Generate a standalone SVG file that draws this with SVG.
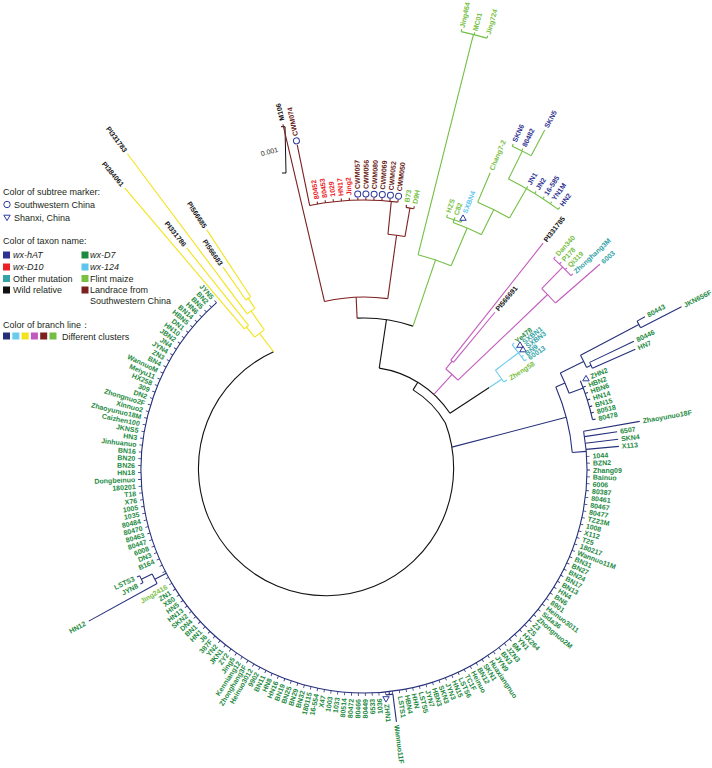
<svg xmlns="http://www.w3.org/2000/svg" width="712" height="768" viewBox="0 0 712 768">
<defs>
<style>
text{font-family:"Liberation Sans",Arial,Helvetica,sans-serif}
.t{font-size:7px;font-weight:bold;dominant-baseline:central}
.e{text-anchor:end}
.lgd{font-size:9px;fill:#231f20}
.it{font-style:italic}
.g{fill:#1d8a3f}
.lg{fill:#78c043}
.nv{fill:#2e3191}
.rd{fill:#ea2227}
.tl{fill:#33a3a6}
.lb{fill:#5cc6ec}
.bk{fill:#111}
.br{fill:#6a1c17}
.c path,.c circle{fill:none;stroke-width:1.1}
.k{stroke:#111}
.db{stroke:#26307a}
.yl{stroke:#f2e41a}
.mg{stroke:#c25bbe}
.bw{stroke:#7c1f1f}
.gr{stroke:#72bf44}
.cy{stroke:#6ccbeb}
.mk{fill:none;stroke:#2e3a9a;stroke-width:1}
</style>
<clipPath id="tk"><path d="M0 0L998 -64L1000 1000L-1000 1000L-1000 -1000L-659 -752Z"/></clipPath>
<path id="triU" d="M-3.2 2.3H3.2L0 -3.1Z"/>
<path id="triD" d="M-3.2 -2.3H3.2L0 3.1Z"/>
</defs>

<g id="legend">
<text class="lgd" x="3" y="195">Color of subtree marker:</text>
<circle class="mk" cx="7" cy="204.5" r="3.2"/>
<text class="lgd" x="14" y="207.5">Southwestern China</text>
<use href="#triD" class="mk" x="7" y="217.5"/>
<text class="lgd" x="14" y="220.5">Shanxi, China</text>
<text class="lgd" x="3" y="244">Color of taxon name:</text>
<rect x="3" y="251.5" width="7" height="7" fill="#2e3191"/>
<text class="lgd it" x="13" y="258">wx-hAT</text>
<rect x="3" y="263.5" width="7" height="7" fill="#ea2227"/>
<text class="lgd it" x="13" y="270">wx-D10</text>
<rect x="3" y="275" width="7" height="7" fill="#33a3a6"/>
<text class="lgd" x="13" y="281.5">Other mutation</text>
<rect x="3" y="286.5" width="7" height="7" fill="#111"/>
<text class="lgd" x="13" y="293">Wild relative</text>
<rect x="81.5" y="251.5" width="7" height="7" fill="#1d8a3f"/>
<text class="lgd it" x="90" y="258">wx-D7</text>
<rect x="81.5" y="263.5" width="7" height="7" fill="#5cc6ec"/>
<text class="lgd it" x="90" y="270">wx-124</text>
<rect x="81.5" y="275" width="7" height="7" fill="#78c043"/>
<text class="lgd" x="90" y="281.5">Flint maize</text>
<rect x="81.5" y="286.5" width="7" height="7" fill="#7c1f1f"/>
<text class="lgd" x="90" y="293">Landrace  from</text>
<text class="lgd" x="90" y="304">Southwestern China</text>
<text class="lgd" x="3" y="328">Color of branch line：</text>
<rect x="3" y="332.5" width="7" height="7" fill="#26307a"/>
<rect x="12.3" y="332.5" width="7" height="7" fill="#6ccbeb"/>
<rect x="21.6" y="332.5" width="7" height="7" fill="#f2e41a"/>
<rect x="30.9" y="332.5" width="7" height="7" fill="#c25bbe"/>
<rect x="40.2" y="332.5" width="7" height="7" fill="#7c1f1f"/>
<rect x="49.5" y="332.5" width="7" height="7" fill="#72bf44"/>
<text class="lgd" x="62" y="339.5">Different clusters</text>
</g>

<g id="scale">
<path d="M281 126.7H285L286 173H282" fill="none" stroke="#111" stroke-width="1"/>
<text x="270" y="154" transform="rotate(-15 270 154)" text-anchor="middle" style="font-size:7px;fill:#222">0.001</text>
</g>

<g id="connectors" class="c" transform="translate(364 470)">
<g class="k">
<path d="M49.1 -80.1A94 94 0 0 1 81.4 -47A127.6 127.6 0 1 1 -90.4 -118.2"/>
<path d="M94 0H103" transform="rotate(-58.5)"/>
<circle r="103" pathLength="360" stroke-dasharray="48.1 360" transform="rotate(-81.5)"/>
<path d="M103 0H152" transform="rotate(-81.5)"/>
<circle r="152" pathLength="360" stroke-dasharray="21.4 360" transform="rotate(-92.6)"/>
<path d="M103 0H150" transform="rotate(-33.4)"/>
</g>
<g class="yl" style="stroke-width:1.3">
<path d="M148.9 0H172" transform="rotate(-127.4)"/>
<circle r="172" pathLength="360" stroke-dasharray="4.05 360" transform="rotate(-129.45)"/>
<path d="M172 0H185" transform="rotate(-129.45)"/>
<circle r="185" pathLength="360" stroke-dasharray="1.7 360" transform="rotate(-130.3)"/>
<path d="M185 0H370" transform="rotate(-130.3)"/>
<path d="M185 0H284" transform="rotate(-128.6)"/>
<path d="M172 0H195" transform="rotate(-125.4)"/>
<circle r="195" pathLength="360" stroke-dasharray="2.8 360" transform="rotate(-126.8)"/>
<path d="M195 0H395" transform="rotate(-126.8)"/>
<path d="M195 0H207" transform="rotate(-124)"/>
<circle r="207" pathLength="360" stroke-dasharray="1.6 360" transform="rotate(-124.8)"/>
<path d="M207 0H247" transform="rotate(-124.8)"/>
<path d="M207 0H287" transform="rotate(-123.2)"/>
</g>
<g class="bw">
<path d="M152 0H173" transform="rotate(-92.6)"/>
<circle r="173" pathLength="360" stroke-dasharray="21.1 360" transform="rotate(-103.2)"/>
<path d="M173 0H355" transform="rotate(-103.2)"/>
<path d="M173 0H237" transform="rotate(-82.1)"/>
<circle r="237" pathLength="360" stroke-dasharray="4.15 360" transform="rotate(-84.2)"/>
<path d="M237 0H266" transform="rotate(-80.05)"/>
<circle r="266" pathLength="360" stroke-dasharray="1.7 360" transform="rotate(-80.9)"/>
<path d="M266 0H268.5" transform="rotate(-80.9)"/>
<path d="M266 0H268.5" transform="rotate(-79.2)"/>
<path d="M237 0H270" transform="rotate(-84.2)"/>
<circle r="270" pathLength="360" stroke-dasharray="18.8 360" transform="rotate(-101.6)"/>
<path d="M270 0H332" transform="rotate(-101.6)"/>
<path d="M270 0H272.5" transform="rotate(-99.9)"/>
<path d="M270 0H272.5" transform="rotate(-98.2)"/>
<path d="M270 0H272.5" transform="rotate(-96.5)"/>
<path d="M270 0H272.5" transform="rotate(-94.8)"/>
<path d="M270 0H272.5" transform="rotate(-93.1)"/>
<path d="M270 0H272.5" transform="rotate(-91.3)"/>
<path d="M270 0H272.5" transform="rotate(-89.6)"/>
<path d="M270 0H272.5" transform="rotate(-87.9)"/>
<path d="M270 0H272.5" transform="rotate(-86.2)"/>
<path d="M270 0H272.5" transform="rotate(-84.5)"/>
<path d="M270 0H272.5" transform="rotate(-82.8)"/>
</g>
<g class="gr">
<path d="M152 0H222" transform="rotate(-71.2)"/>
<circle r="222" pathLength="360" stroke-dasharray="9 360" transform="rotate(-75.9)"/>
<path d="M222 0H449" transform="rotate(-75.9)"/>
<circle r="449" pathLength="360" stroke-dasharray="3.4 360" transform="rotate(-77.5)"/>
<path d="M449 0H451.5" transform="rotate(-77.5)"/>
<path d="M449 0H451.5" transform="rotate(-75.8)"/>
<path d="M449 0H451.5" transform="rotate(-74.1)"/>
<path d="M222 0H263" transform="rotate(-66.9)"/>
<circle r="263" pathLength="360" stroke-dasharray="6.7 360" transform="rotate(-70.2)"/>
<path d="M263 0H266" transform="rotate(-70.2)"/>
<circle r="266" pathLength="360" stroke-dasharray="3.3 360" transform="rotate(-71.9)"/>
<path d="M266 0H268.5" transform="rotate(-71.9)"/>
<path d="M266 0H268.5" transform="rotate(-70.2)"/>
<path d="M266 0H268.5" transform="rotate(-68.6)"/>
<path d="M263 0H291" transform="rotate(-63.5)"/>
<circle r="291" pathLength="360" stroke-dasharray="7 360" transform="rotate(-67)"/>
<path d="M291 0H323" transform="rotate(-67)"/>
<path d="M291 0H325" transform="rotate(-60)"/>
<circle r="325" pathLength="360" stroke-dasharray="10.3 360" transform="rotate(-63.6)"/>
<path d="M325 0H327.5" transform="rotate(-60)"/>
<path d="M325 0H327.5" transform="rotate(-58.3)"/>
<path d="M325 0H327.5" transform="rotate(-56.6)"/>
<path d="M325 0H327.5" transform="rotate(-55)"/>
<path d="M325 0H327.5" transform="rotate(-53.3)"/>
<path d="M325 0H356" transform="rotate(-63.6)"/>
<circle r="356" pathLength="360" stroke-dasharray="3.4 360" transform="rotate(-65.4)"/>
<path d="M356 0H358.5" transform="rotate(-65.4)"/>
<path d="M356 0H358.5" transform="rotate(-63.7)"/>
<path d="M356 0H385" transform="rotate(-62)"/>
</g>
<g class="mg">
<path d="M103 0H130" transform="rotate(-47.3)"/>
<circle r="130" pathLength="360" stroke-dasharray="7.3 360" transform="rotate(-51)"/>
<path d="M130 0H140" transform="rotate(-51)"/>
<circle r="140" pathLength="360" stroke-dasharray="1.4 360" transform="rotate(-51.7)"/>
<path d="M140 0H289" transform="rotate(-51.7)"/>
<path d="M140 0H205" transform="rotate(-50.3)"/>
<path d="M130 0H254" transform="rotate(-43.7)"/>
<circle r="254" pathLength="360" stroke-dasharray="4.5 360" transform="rotate(-45.6)"/>
<path d="M254 0H284" transform="rotate(-45.6)"/>
<circle r="284" pathLength="360" stroke-dasharray="4.9 360" transform="rotate(-48.1)"/>
<path d="M284 0H286.5" transform="rotate(-48.1)"/>
<path d="M284 0H286.5" transform="rotate(-46.5)"/>
<path d="M284 0H286.5" transform="rotate(-44.9)"/>
<path d="M284 0H286.5" transform="rotate(-43.2)"/>
<path d="M254 0H313" transform="rotate(-41.1)"/>
</g>
<g class="cy">
<path d="M150 0H165" transform="rotate(-33.4)"/>
<circle r="165" pathLength="360" stroke-dasharray="5 360" transform="rotate(-37.2)"/>
<path d="M165 0H169" transform="rotate(-32.2)"/>
<path d="M165 0H194" transform="rotate(-37.2)"/>
<circle r="194" pathLength="360" stroke-dasharray="6 360" transform="rotate(-40.2)"/>
<path d="M194 0H196.5" transform="rotate(-40.2)"/>
<path d="M194 0H196.5" transform="rotate(-38.7)"/>
<path d="M194 0H196.5" transform="rotate(-37.2)"/>
<path d="M194 0H196.5" transform="rotate(-35.7)"/>
<path d="M194 0H196.5" transform="rotate(-34.2)"/>
</g>
<g class="db" style="stroke-width:1.3">
<path d="M90.8 0H209" transform="rotate(-14.6)"/>
<circle r="209" pathLength="360" stroke-dasharray="18.6 360" transform="rotate(-23.4)"/>
<path d="M209 0H219" transform="rotate(-23.4)"/>
<circle r="219" pathLength="360" stroke-dasharray="5.8 360" transform="rotate(-26.3)"/>
<path d="M219 0H245" transform="rotate(-26.3)"/>
<circle r="245" pathLength="360" stroke-dasharray="3.15 360" transform="rotate(-27.9)"/>
<path d="M245 0H311" transform="rotate(-27.9)"/>
<circle r="311" pathLength="360" stroke-dasharray="1.4 360" transform="rotate(-28.6)"/>
<path d="M311 0H320" transform="rotate(-28.6)"/>
<path d="M311 0H357" transform="rotate(-27.2)"/>
<path d="M245 0H250" transform="rotate(-24.75)"/>
<circle r="250" pathLength="360" stroke-dasharray="1.5 360" transform="rotate(-25.5)"/>
<path d="M250 0H299" transform="rotate(-25.5)"/>
<path d="M250 0H297" transform="rotate(-24)"/>
<path d="M219 0H234" transform="rotate(-20.5)"/>
<circle r="234" pathLength="360" stroke-dasharray="10 360" transform="rotate(-22.4)"/>
<path d="M234 0H237" transform="rotate(-20.7)"/>
<path d="M234 0H237" transform="rotate(-19.1)"/>
<path d="M234 0H237" transform="rotate(-17.4)"/>
<path d="M234 0H237" transform="rotate(-15.7)"/>
<path d="M234 0H237" transform="rotate(-14.1)"/>
<path d="M234 0H237" transform="rotate(-12.4)"/>
<path d="M209 0H223" transform="rotate(-4.8)"/>
<circle r="223" pathLength="360" stroke-dasharray="238.6 360" transform="rotate(-10)"/>
<path d="M223 0H280" transform="rotate(-10)"/>
<path d="M223 0H256" transform="rotate(-8.6)"/>
<path d="M223 0H256" transform="rotate(-6.9)"/>
<path d="M223 0H256" transform="rotate(-5.3)"/>
<g clip-path="url(#tk)"><circle r="224.5" pathLength="360" stroke-dasharray="0.2 1.5583" transform="rotate(-3.6)" style="stroke-width:3"/></g>
<path d="M223 0H236" transform="rotate(152.4)"/>
<circle r="236" pathLength="360" stroke-dasharray="2.64 360" transform="rotate(151.23)"/>
<path d="M236 0H314" transform="rotate(151.23)"/>
<path d="M236 0H248" transform="rotate(153.87)"/>
<circle r="248" pathLength="360" stroke-dasharray="1.76 360" transform="rotate(152.99)"/>
<path d="M248 0H251" transform="rotate(152.99)"/>
<path d="M248 0H251" transform="rotate(154.75)"/>
<path d="M223 0H226" transform="rotate(83.54)"/>
<circle r="226" pathLength="360" stroke-dasharray="1.76 360" transform="rotate(82.66)"/>
<path d="M226 0H254" transform="rotate(82.66)"/>
</g>
</g>

<g id="markers">
<g transform="translate(364 470)">
<circle class="mk" cx="336" r="3" transform="rotate(-101.6)"/>
<circle class="mk" cx="276" r="3" transform="rotate(-91.3)"/>
<circle class="mk" cx="276" r="3" transform="rotate(-89.6)"/>
<circle class="mk" cx="276" r="3" transform="rotate(-87.9)"/>
<circle class="mk" cx="276" r="3" transform="rotate(-86.2)"/>
<circle class="mk" cx="276" r="3" transform="rotate(-84.5)"/>
<circle class="mk" cx="276" r="3" transform="rotate(-82.8)"/>
</g>
<use href="#triU" class="mk" x="463" y="218"/>
<use href="#triU" class="mk" x="520" y="345"/>
<use href="#triU" class="mk" x="523" y="349.5"/>
<use href="#triU" class="mk" x="586" y="378.5"/>
<use href="#triD" class="mk" x="386" y="699"/>
</g>

<g id="clade-yellow" class="t bk" transform="translate(364 470)">
<text class="e" transform="rotate(53.2)" x="-398">PI331783</text>
<text class="e" transform="rotate(49.7)" x="-373">PI384061</text>
<text class="e" transform="rotate(51.4)" x="-287">PI331786</text>
<text class="e" transform="rotate(56.8)" x="-290">PI566685</text>
<text class="e" transform="rotate(55.2)" x="-250">PI566683</text>
</g>

<g id="clade-brown" class="t" transform="translate(364 470)">
<text class="bk" transform="rotate(-103.2)" x="359">M106</text>
<text class="br" transform="rotate(-101.6)" x="341">CWM074</text>
<text class="rd" transform="rotate(-99.9)" x="275">80452</text>
<text class="rd" transform="rotate(-98.2)" x="275">80453</text>
<text class="rd" transform="rotate(-96.5)" x="275">1029</text>
<text class="rd" transform="rotate(-94.8)" x="275">HN17</text>
<text class="rd" transform="rotate(-93.1)" x="275">Jing2</text>
<text class="br" transform="rotate(-91.3)" x="281">CWM057</text>
<text class="br" transform="rotate(-89.6)" x="281">CWM056</text>
<text class="br" transform="rotate(-87.9)" x="281">CWM080</text>
<text class="br" transform="rotate(-86.2)" x="281">CWM069</text>
<text class="br" transform="rotate(-84.5)" x="281">CWM052</text>
<text class="br" transform="rotate(-82.8)" x="281">CWM050</text>
<text class="lg" transform="rotate(-80.9)" x="271">B73</text>
<text class="lg" transform="rotate(-79.2)" x="271">D9H</text>
</g>

<g id="clade-green" class="t" transform="translate(364 470)">
<text class="lg" transform="rotate(-77.5)" x="453">Jing464</text>
<text class="lg" transform="rotate(-75.8)" x="453">MC01</text>
<text class="lg" transform="rotate(-74.1)" x="453">Jing724</text>
<text class="lg" transform="rotate(-71.9)" x="271">HZS</text>
<text class="lg" transform="rotate(-70.2)" x="271">C82</text>
<text class="lb" transform="rotate(-68.6)" x="276">SXBN4</text>
<text class="lg" transform="rotate(-67)" x="326">Chang7-2</text>
<text class="nv" transform="rotate(-60)" x="330">JN1</text>
<text class="nv" transform="rotate(-58.3)" x="330">JN2</text>
<text class="nv" transform="rotate(-56.6)" x="330">16-585</text>
<text class="nv" transform="rotate(-55)" x="330">YN1M</text>
<text class="nv" transform="rotate(-53.3)" x="330">HN2</text>
<text class="nv" transform="rotate(-65.4)" x="361">SKN6</text>
<text class="nv" transform="rotate(-63.7)" x="361">80482</text>
<text class="nv" transform="rotate(-62)" x="388">SKN5</text>
</g>

<g id="clade-magenta" class="t" transform="translate(364 470)">
<text class="bk" transform="rotate(-51.7)" x="292">PI331785</text>
<text class="bk" transform="rotate(-50.3)" x="208">PI566691</text>
<text class="lg" transform="rotate(-48.1)" x="289">Dan340</text>
<text class="lg" transform="rotate(-46.5)" x="289">P178</text>
<text class="lg" transform="rotate(-44.9)" x="289">Qi319</text>
<text class="tl" transform="rotate(-43.2)" x="289">Zhonghang3M</text>
<text class="tl" transform="rotate(-41.1)" x="316">6003</text>
</g>

<g id="clade-lightblue" class="t" transform="translate(364 470)">
<text class="g" transform="rotate(-40.2)" x="199">Ye478</text>
<text class="tl" transform="rotate(-38.7)" x="204">SXBN1</text>
<text class="tl" transform="rotate(-37.2)" x="204">SXBN3</text>
<text class="tl" transform="rotate(-35.7)" x="199">BN9</text>
<text class="tl" transform="rotate(-34.2)" x="199">60013</text>
<text class="lg" transform="rotate(-32.2)" x="172">Zheng58</text>
</g>

<g id="clade-darkblue-right" class="t g" transform="translate(364 470)">
<text transform="rotate(-28.6)" x="323">80443</text>
<text transform="rotate(-27.2)" x="360">JKN656F</text>
<text transform="rotate(-25.5)" x="302">80446</text>
<text transform="rotate(-24)" x="300">HN7</text>
<text transform="rotate(-22.4)" x="245">ZHN2</text>
<text transform="rotate(-20.7)" x="240">HBN2</text>
<text transform="rotate(-19.1)" x="240">HBN6</text>
<text transform="rotate(-17.4)" x="240">HN14</text>
<text transform="rotate(-15.7)" x="240">BN15</text>
<text transform="rotate(-14.1)" x="240">80518</text>
<text transform="rotate(-12.4)" x="240">80478</text>
<text transform="rotate(-10)" x="283">Zhaoyunuo18F</text>
<text transform="rotate(-8.6)" x="259">6507</text>
<text transform="rotate(-6.9)" x="259">SKN4</text>
<text transform="rotate(-5.3)" x="259">X113</text>
</g>

<g id="clade-darkblue-left" class="t g e" transform="translate(364 470)">
<text transform="rotate(48.6)" x="-229">JYN5</text>
<text transform="rotate(46.84)" x="-229">BN2</text>
<text transform="rotate(45.08)" x="-229">BN5</text>
<text transform="rotate(43.32)" x="-229">HN6</text>
<text transform="rotate(41.57)" x="-229">BN14</text>
<text transform="rotate(39.81)" x="-229">HBN5</text>
<text transform="rotate(38.05)" x="-229">DN1</text>
<text transform="rotate(36.29)" x="-229">HN10</text>
<text transform="rotate(34.53)" x="-229">JBN2</text>
<text transform="rotate(32.78)" x="-229">JN4</text>
<text transform="rotate(31.02)" x="-229">JYN4</text>
<text transform="rotate(29.26)" x="-229">ZN3</text>
<text transform="rotate(27.5)" x="-229">BN4</text>
<text transform="rotate(25.74)" x="-229">WannuoM</text>
<text transform="rotate(23.98)" x="-229">Meiyu11</text>
<text transform="rotate(22.23)" x="-229">HX258</text>
<text transform="rotate(20.47)" x="-229">309</text>
<text transform="rotate(18.71)" x="-229">DN2</text>
<text transform="rotate(16.95)" x="-229">Zhongnuo2F</text>
<text transform="rotate(15.19)" x="-229">Xinnuo2</text>
<text transform="rotate(13.43)" x="-229">Zhaoyunuo18M</text>
<text transform="rotate(11.68)" x="-229">Caizhen100</text>
<text transform="rotate(9.92)" x="-229">JKNS5</text>
<text transform="rotate(8.16)" x="-229">HN3</text>
<text transform="rotate(6.4)" x="-229">Jinhuanuo</text>
<text transform="rotate(4.64)" x="-229">BN16</text>
<text transform="rotate(2.88)" x="-229">BN20</text>
<text transform="rotate(1.13)" x="-229">BN26</text>
<text transform="rotate(-0.63)" x="-229">HN18</text>
<text transform="rotate(-2.39)" x="-229">Dongbeinuo</text>
<text transform="rotate(-4.15)" x="-229">180201</text>
<text transform="rotate(-5.91)" x="-229">T18</text>
<text transform="rotate(-7.67)" x="-229">X76</text>
<text transform="rotate(-9.42)" x="-229">1005</text>
<text transform="rotate(-11.18)" x="-229">1035</text>
<text transform="rotate(-12.94)" x="-229">80484</text>
<text transform="rotate(-14.7)" x="-229">80470</text>
<text transform="rotate(-16.46)" x="-229">80463</text>
<text transform="rotate(-18.21)" x="-229">80447</text>
<text transform="rotate(-19.97)" x="-229">6008</text>
<text transform="rotate(-21.73)" x="-229">DN3</text>
<text transform="rotate(-23.49)" x="-229">B164</text>
<text transform="rotate(-25.25)" x="-254">LSTS3</text>
<text transform="rotate(-27.01)" x="-254">JYN8</text>
<text transform="rotate(-28.77)" x="-318">HN12</text>
<text class="lg" transform="rotate(-30.52)" x="-229">Jing2416</text>
<text transform="rotate(-32.28)" x="-229">ZN1</text>
<text transform="rotate(-34.04)" x="-229">X80</text>
<text transform="rotate(-35.8)" x="-229">HN5</text>
<text transform="rotate(-37.56)" x="-229">HN13</text>
<text transform="rotate(-39.32)" x="-229">SKN2</text>
<text transform="rotate(-41.07)" x="-229">DN4</text>
<text transform="rotate(-42.83)" x="-229">BN1</text>
<text transform="rotate(-44.59)" x="-229">HN1</text>
<text transform="rotate(-46.35)" x="-229">J6</text>
<text transform="rotate(-48.11)" x="-229">387F</text>
<text transform="rotate(-49.86)" x="-229">YN2</text>
<text transform="rotate(-51.62)" x="-229">JKN1</text>
<text transform="rotate(-53.38)" x="-229">ZY2</text>
<text transform="rotate(-55.14)" x="-229">Jing5</text>
<text transform="rotate(-56.9)" x="-229">Kenniang12</text>
<text transform="rotate(-58.66)" x="-229">Zhonghang3F</text>
<text transform="rotate(-60.41)" x="-229">Heinuo3012</text>
<text transform="rotate(-62.17)" x="-229">9902</text>
<text transform="rotate(-63.93)" x="-229">BN11</text>
<text transform="rotate(-65.69)" x="-229">HN8</text>
<text transform="rotate(-67.45)" x="-229">HN16</text>
<text transform="rotate(-69.21)" x="-229">BN19</text>
<text transform="rotate(-70.96)" x="-229">BN25</text>
<text transform="rotate(-72.72)" x="-229">BN29</text>
<text transform="rotate(-74.48)" x="-229">BN32</text>
<text transform="rotate(-76.24)" x="-229">180115</text>
<text transform="rotate(-78)" x="-229">16-554</text>
<text transform="rotate(-79.75)" x="-229">X47</text>
<text transform="rotate(-81.51)" x="-229">1003</text>
<text transform="rotate(-83.27)" x="-229">1033</text>
<text transform="rotate(-85.03)" x="-229">80514</text>
<text transform="rotate(-86.79)" x="-229">80472</text>
<text transform="rotate(-88.55)" x="-229">80466</text>
<text transform="rotate(-90.3)" x="-229">80449</text>
<text transform="rotate(-92.06)" x="-229">6533</text>
<text transform="rotate(-93.82)" x="-229">1036</text>
</g>

<g id="clade-darkblue-bottom" class="t g" transform="translate(364 470)">
<text transform="rotate(84.42)" x="235">ZHN1</text>
<text transform="rotate(82.66)" x="257">Wannuo11F</text>
<text transform="rotate(80.91)" x="229">LSTS1</text>
<text transform="rotate(79.15)" x="229">HBN4</text>
<text transform="rotate(77.39)" x="229">HHN</text>
<text transform="rotate(75.63)" x="229">LSTS5</text>
<text transform="rotate(73.87)" x="229">JYN7</text>
<text transform="rotate(72.12)" x="229">HBN3</text>
<text transform="rotate(70.36)" x="229">SKN3</text>
<text transform="rotate(68.6)" x="229">JYN3</text>
<text transform="rotate(66.84)" x="229">HN15</text>
<text transform="rotate(65.08)" x="229">LSTS6</text>
<text transform="rotate(63.32)" x="229">TC1F</text>
<text transform="rotate(61.57)" x="229">Heinuo</text>
<text transform="rotate(59.81)" x="229">BN12</text>
<text transform="rotate(58.05)" x="229">SKN1</text>
<text transform="rotate(56.29)" x="229">Huaxiangnuo</text>
<text transform="rotate(54.53)" x="229">JYN9</text>
<text transform="rotate(52.77)" x="229">BN3</text>
<text transform="rotate(51.02)" x="229">JZN3</text>
<text transform="rotate(49.26)" x="229">6M</text>
<text transform="rotate(47.5)" x="229">YN1</text>
<text transform="rotate(45.74)" x="229">HX264</text>
<text transform="rotate(43.98)" x="229">ZS</text>
<text transform="rotate(42.22)" x="229">Z3</text>
<text transform="rotate(40.47)" x="229">Zhongnuo2M</text>
<text transform="rotate(38.71)" x="229">Sida36</text>
<text transform="rotate(36.95)" x="229">Heinuo3011</text>
<text transform="rotate(35.19)" x="229">8901</text>
<text transform="rotate(33.43)" x="229">BN6</text>
<text transform="rotate(31.67)" x="229">HN4</text>
<text transform="rotate(29.92)" x="229">BN13</text>
<text transform="rotate(28.16)" x="229">BN17</text>
<text transform="rotate(26.4)" x="229">BN24</text>
<text transform="rotate(24.64)" x="229">BN27</text>
<text transform="rotate(22.88)" x="229">BN31</text>
<text transform="rotate(21.12)" x="229">Wannuo11M</text>
<text transform="rotate(19.37)" x="229">180217</text>
<text transform="rotate(17.61)" x="229">T25</text>
<text transform="rotate(15.85)" x="229">X112</text>
<text transform="rotate(14.09)" x="229">1008</text>
<text transform="rotate(12.33)" x="229">TZ23M</text>
<text transform="rotate(10.57)" x="229">80477</text>
<text transform="rotate(8.82)" x="229">80467</text>
<text transform="rotate(7.06)" x="229">80461</text>
<text transform="rotate(5.3)" x="229">80387</text>
<text transform="rotate(3.54)" x="229">6006</text>
<text transform="rotate(1.78)" x="229">Bainuo</text>
<text transform="rotate(0.02)" x="229">Zhang09</text>
<text transform="rotate(-1.74)" x="229">BZN2</text>
<text transform="rotate(-3.5)" x="229">1044</text>
</g>
</svg>
